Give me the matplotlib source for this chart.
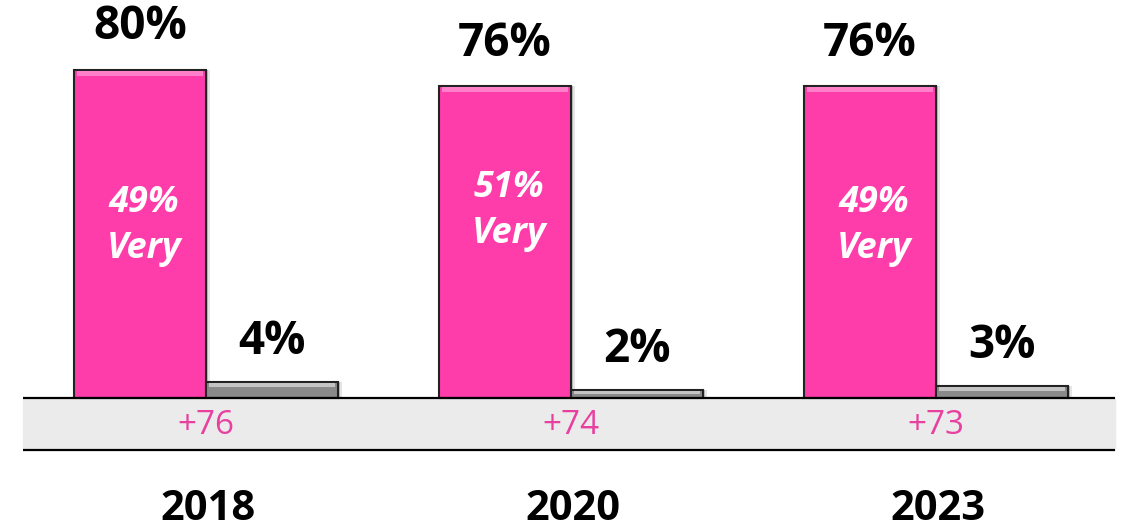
import numpy as np
import matplotlib
matplotlib.use('Agg')
import matplotlib.pyplot as plt

# data
YEARS = ['2018', '2020', '2023']
FAVOR = [80, 76, 76]
OPPOSE = [4, 2, 3]
VERY = [49, 51, 49]
NET = ['+76', '+74', '+73']

# layout (label heights for the "Very" text inside the pink bars)
VERY_Y = [42, 45.6, 42]

PINK = '#FF3DAA'
GRAY = '#8A8A8A'
NET_COLOR = '#E8409F'
BAND = '#EBEBEB'

plt.rcParams['font.family'] = ['Open Sans', 'DejaVu Sans']

fig = plt.figure(figsize=(11.22, 5.30), dpi=100)
ax = fig.add_axes([0, 0, 1, 1])
ax.set_xlim(-0.5644, 2.5096)
ax.set_ylim(-32.2, 97.07)
ax.axis('off')

x = np.arange(len(YEARS))
w = 0.3616

# light band under the baseline
band_h = 12.68
ax.axhspan(-band_h, 0, xmin=0.0205, xmax=0.9938, color=BAND, zorder=0)
ax.hlines([0, -band_h], -0.5644 + 0.0205 * 3.074, -0.5644 + 0.9938 * 3.074,
          color='black', linewidth=1.6, zorder=3)

# soft shadows
for off, a in ((0.006, 0.18), (0.012, 0.10)):
    ax.bar(x - w / 2 + off, FAVOR, width=w, color='black', alpha=a, zorder=1)
    ax.bar(x + w / 2 + off, OPPOSE, width=w, color='black', alpha=a, zorder=1)

ax.bar(x - w / 2, FAVOR, width=w, color=PINK, edgecolor='#222222', linewidth=1.5, zorder=2)
ax.bar(x + w / 2, OPPOSE, width=w, color=GRAY, edgecolor='#222222', linewidth=1.5, zorder=2)

# bevel highlight along the top of each bar
for i in range(len(YEARS)):
    ax.bar(x[i] - w / 2, 1.2, bottom=FAVOR[i] - 1.4, width=w * 0.96,
           color='#FF7FCB', linewidth=0, zorder=2.5)
    h = min(1.0, OPPOSE[i] * 0.35)
    ax.bar(x[i] + w / 2, h, bottom=OPPOSE[i] - h - 0.3,
           width=w * 0.96, color='#C4C4C4', linewidth=0, zorder=2.5)

for i, yr in enumerate(YEARS):
    ax.text(x[i] - w / 2, FAVOR[i] + 10.5, f'{FAVOR[i]}%', ha='center', va='center',
            fontsize=33, fontweight='bold', color='black')
    ax.text(x[i] + w / 2, OPPOSE[i] + 9.8, f'{OPPOSE[i]}%', ha='center', va='center',
            fontsize=33, fontweight='bold', color='black')
    ax.text(x[i] - w / 2 + 0.01, VERY_Y[i], f'{VERY[i]}%\nVery', ha='center', va='center',
            fontsize=26, fontweight='bold', fontstyle='italic', color='white', linespacing=1.35)
    ax.text(x[i], -6.6, NET[i], ha='center', va='center', fontsize=24, color=NET_COLOR)
    ax.text(x[i] + 0.005, -27.2, yr, ha='center', va='center', fontsize=30,
            fontweight='bold', color='black')

fig.savefig('out.png', dpi=100)
